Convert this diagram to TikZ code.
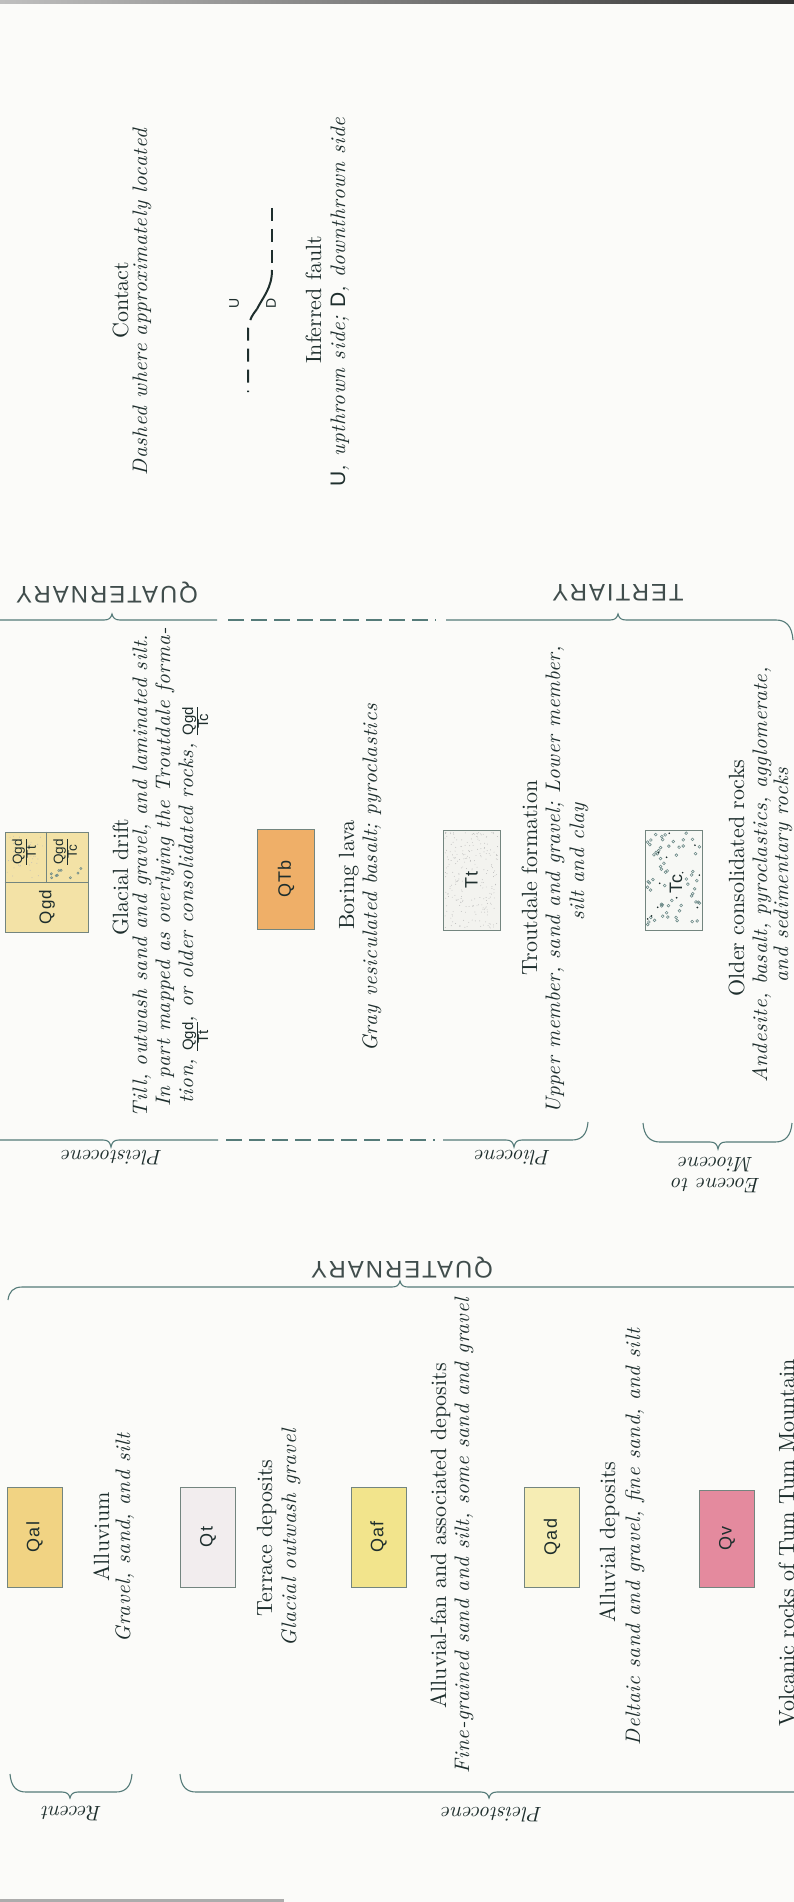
\documentclass[tikz,border=0pt]{standalone}
\usepackage{fontspec}
\setmainfont{lmroman10-regular}[Extension=.otf, ItalicFont=lmroman10-italic, BoldFont=lmroman10-bold]
\setsansfont{Liberation Sans}
\definecolor{ink}{HTML}{1E2E2D}
\definecolor{bracecol}{HTML}{557B79}
\definecolor{boxline}{HTML}{73857F}
\definecolor{pagebg}{HTML}{FBFBF9}
\definecolor{cQal}{HTML}{F1D383}
\definecolor{cQt}{HTML}{F2EDEE}
\definecolor{cQaf}{HTML}{F2E48C}
\definecolor{cQad}{HTML}{F6EDB4}
\definecolor{cQv}{HTML}{E48A9E}
\definecolor{cQgd}{HTML}{F3E2A6}
\definecolor{cQTb}{HTML}{EFAF68}
\definecolor{cTt}{HTML}{F3F3EF}
\definecolor{cTc}{HTML}{F7F8F5}
\definecolor{dotcol}{HTML}{6F8C8A}
\newcommand\frc[2]{{\renewcommand\arraystretch{0.9}\setlength\arrayrulewidth{0.8pt}\begin{tabular}[t]{@{}c@{}}\sffamily\upshape #1\\\hline\sffamily\upshape #2\end{tabular}}}
\tikzset{
  ttl/.style={rotate=90, anchor=base, inner sep=0pt, text=ink, font=\fontsize{22}{24}\selectfont},
  dsc/.style={rotate=90, anchor=base, inner sep=0pt, text=ink, font=\fontsize{21}{22}\selectfont\itshape\addfontfeatures{LetterSpace=3}},
  serieslab/.style={rotate=180, inner sep=0pt, text=ink, align=center, font=\fontsize{21}{21}\selectfont\itshape},
  syslab/.style={rotate=180, inner sep=0pt, text=ink!85, font=\fontsize{24}{24}\selectfont\sffamily\addfontfeatures{LetterSpace=8}},
  ubox/.style={draw=boxline, line width=0.8pt, inner sep=0pt, minimum width=55pt, minimum height=100pt},
  boxlab/.style={rotate=90, inner sep=0pt, text=ink, font=\fontsize{18}{18}\selectfont\sffamily\addfontfeatures{LetterSpace=6}},
  brace/.style={draw=bracecol, line width=1.1pt},
  bracedash/.style={draw=bracecol, line width=1.1pt, dash pattern=on 16pt off 7pt},
  faultline/.style={draw=ink, line width=2pt},
  dotline/.style={draw=dotcol, line width=0.6pt},
  stip/.style={fill=gray!55},
}
\begin{document}
\begin{tikzpicture}[x=1pt,y=-1pt]
\useasboundingbox (0,0) rectangle (794,1902);
\fill[pagebg] (0,0) rectangle (794,1902);
\shade[left color=gray!50,right color=black!80] (0,0) rectangle (794,4);
\fill[gray!65] (0,1899) rectangle (284,1902);

% ---------------- right column: contact and fault
\node[ttl] (contact) at (128,300) {Contact};
\node[dsc] (dashedwhere) at (147,302) {Dashed where approximately located};
\coordinate (f1) at (272,208);
\coordinate (f2) at (272,270);
\coordinate (f3) at (257,309);
\coordinate (f4) at (248,328);
\coordinate (f5) at (248,392);
\draw[faultline, dash pattern=on 13pt off 8pt] (f1) -- (f2);
\draw[faultline] (f2) .. controls (272,288) and (263,297) .. (f3);
\draw[faultline, dash pattern=on 13pt off 8pt] (f3) .. controls (251,317) .. (f4) -- (f5);
\node[rotate=90, inner sep=0pt, text=ink, font=\fontsize{14}{14}\selectfont\sffamily] (ulab) at (234,303) {U};
\node[rotate=90, inner sep=0pt, text=ink, font=\fontsize{14}{14}\selectfont\sffamily] (dlab) at (271,303) {D};
\node[ttl] (inferred) at (321,300) {Inferred fault};
\node[dsc] (updown) at (345,302) {{\sffamily\upshape U}, upthrown side; {\sffamily\upshape D}, downthrown side};

% ---------------- upper brace: QUATERNARY / TERTIARY
\draw[brace] (0,620) -- (104,620) .. controls (109,620) and (111,618) .. (112,614) .. controls (113,618) and (115,620) .. (120,620) -- (217,620);
\draw[bracedash] (228,620) -- (436,620);
\draw[brace] (446,620) -- (610,620) .. controls (615,620) and (617,618) .. (618,614) .. controls (619,618) and (621,620) .. (626,620) -- (776,620) .. controls (786,620) and (792,626) .. (793,640);
\node[syslab] (quat1) at (107,593) {QUATERNARY};
\node[syslab] (tert) at (618,593) {TERTIARY};

% ---------------- middle column boxes
\node[ubox, fill=cQgd, minimum width=83pt] (bQgd) at (46.5,882) {};
\draw[boxline, line width=0.8pt] (bQgd.west) -- (bQgd.east);
\draw[boxline, line width=0.8pt] (bQgd.north) -- (bQgd.center);
\pgfmathsetseed{11}
\foreach \i in {1,...,40}{
  \pgfmathsetmacro\sx{7+rnd*38}
  \pgfmathsetmacro\sy{834+rnd*46}
  \fill[stip] (\sx,\sy) circle[radius=0.45pt];
}
\foreach \i in {1,...,9}{
  \pgfmathsetmacro\sx{50+rnd*36}
  \pgfmathsetmacro\sy{868+rnd*12}
  \draw[dotline] (\sx,\sy) circle[radius=1.1pt];
}
\node[rotate=90, inner sep=0pt, text=ink, font=\fontsize{13.5}{13.5}\selectfont] (fTt) at (26,852) {\frc{Qgd}{Tt}};
\node[rotate=90, inner sep=0pt, text=ink, font=\fontsize{13.5}{13.5}\selectfont] (fTc) at (67,852) {\frc{Qgd}{Tc}};
\node[boxlab, font=\fontsize{17}{17}\selectfont\sffamily\addfontfeatures{LetterSpace=6}] (lQgd) at (47,907) {Qgd};

\node[ubox, fill=cQTb, minimum width=57pt] (bQTb) at (286,879) {};
\node[boxlab] (lQTb) at (bQTb.center) {QTb};

\node[ubox, fill=cTt, minimum width=57pt] (bTt) at (471.5,880) {};
\foreach \i in {1,...,260}{
  \pgfmathsetmacro\sx{445+rnd*53}
  \pgfmathsetmacro\sy{832+rnd*96}
  \pgfmathtruncatemacro\skipflag{and(abs(\sx-471.5)<9, abs(\sy-883)<12)}
  \ifnum\skipflag=0 \fill[stip] (\sx,\sy) circle[radius=0.45pt];\fi
}
\node[boxlab] (lTt) at (bTt.center) {Tt};

\node[ubox, fill=cTc, minimum width=57pt] (bTc) at (673.5,880) {};
\foreach \i in {1,...,75}{
  \pgfmathsetmacro\sx{647+rnd*53}
  \pgfmathsetmacro\sy{833+rnd*94}
  \pgfmathtruncatemacro\skipflag{and(abs(\sx-676)<9, abs(\sy-884)<13)}
  \ifnum\skipflag=0 \draw[dotline] (\sx,\sy) circle[radius=1.4pt];\fi
}
\foreach \i in {1,...,12}{
  \pgfmathsetmacro\sx{647+rnd*53}
  \pgfmathsetmacro\sy{833+rnd*94}
  \fill[ink] (\sx,\sy) circle[radius=0.9pt];
}
\node[boxlab] (lTc) at (676,884) {Tc};

% ---------------- middle column texts
\node[ttl] (glacial) at (128,877) {Glacial drift};
\node[dsc] (till) at (147,876) {Till, outwash sand and gravel, and laminated silt.};
\node[dsc, anchor=base west] (inpart) at (170,1107) {In part mapped as overlying the Troutdale forma-};
\node[dsc, anchor=base west] (tion) at (193,1104) {tion, {\fontsize{15}{15}\selectfont\frc{Qgd}{Tt}}, or older consolidated rocks, {\fontsize{15}{15}\selectfont\frc{Qgd}{Tc}}};
\node[ttl] (boring) at (354,875) {Boring lava};
\node[dsc] (gray) at (377,878) {Gray vesiculated basalt; pyroclastics};
\node[ttl] (troutdale) at (537,878) {Troutdale formation};
\node[dsc] (upper) at (560,880) {Upper member, sand and gravel; Lower member,};
\node[dsc] (siltclay) at (584,862) {silt and clay};
\node[ttl] (older) at (744,878) {Older consolidated rocks};
\node[dsc] (andesite) at (767,875) {Andesite, basalt, pyroclastics, agglomerate,};
\node[dsc] (sedim) at (788,875) {and sedimentary rocks};

% ---------------- middle braces: Pleistocene / Pliocene / Eocene to Miocene
\draw[brace] (0,1140) -- (103,1140) .. controls (108,1140) and (110,1142) .. (111,1147) .. controls (112,1142) and (114,1140) .. (119,1140) -- (218,1140);
\draw[bracedash] (226,1140) -- (435,1140);
\draw[brace] (443,1140) -- (506,1140) .. controls (511,1140) and (513,1142) .. (514,1147) .. controls (515,1142) and (517,1140) .. (522,1140) -- (572,1140) .. controls (582,1140) and (587,1134) .. (588,1122);
\draw[brace] (643,1123) .. controls (644,1136) and (650,1142) .. (660,1142) -- (710,1142) .. controls (715,1142) and (717,1144) .. (718,1149) .. controls (719,1144) and (721,1142) .. (726,1142) -- (775,1142) .. controls (785,1142) and (791,1136) .. (792,1123);
\node[serieslab] (pleist1) at (112,1158) {Pleistocene};
\node[serieslab] (plio) at (513,1158) {Pliocene};
\node[serieslab] (eoc) at (716,1175) {Eocene to\\Miocene};

% ---------------- lower QUATERNARY brace
\draw[brace] (8,1300) .. controls (9,1292) and (13,1287) .. (22,1287) -- (392,1287) .. controls (397,1287) and (399,1285) .. (400,1281) .. controls (401,1285) and (403,1287) .. (408,1287) -- (794,1287);
\node[syslab] (quat2) at (402,1268) {QUATERNARY};

% ---------------- left column boxes
\node[ubox, fill=cQal] (bQal) at (34.5,1537) {};
\node[boxlab] (lQal) at (bQal.center) {Qal};
\node[ubox, fill=cQt] (bQt) at (208,1537) {};
\node[boxlab] (lQt) at (bQt.center) {Qt};
\node[ubox, fill=cQaf] (bQaf) at (378.5,1537) {};
\node[boxlab] (lQaf) at (bQaf.center) {Qaf};
\node[ubox, fill=cQad] (bQad) at (552,1537) {};
\node[boxlab] (lQad) at (bQad.center) {Qad};
\node[ubox, fill=cQv, minimum height=97pt] (bQv) at (727,1538.5) {};
\node[boxlab] (lQv) at (bQv.center) {Qv};

% ---------------- left column texts
\node[ttl] (alluvium) at (109,1537) {Alluvium};
\node[dsc] (gravel) at (130,1538) {Gravel, sand, and silt};
\node[ttl] (terrace) at (272,1538) {Terrace deposits};
\node[dsc] (glout) at (296,1538) {Glacial outwash gravel};
\node[ttl] (alfan) at (446,1536) {Alluvial-fan and associated deposits};
\node[dsc] (finegr) at (469,1536) {Fine-grained sand and silt, some sand and gravel};
\node[ttl] (aldep) at (615,1542) {Alluvial deposits};
\node[dsc] (deltaic) at (640,1537) {Deltaic sand and gravel, fine sand, and silt};
\node[ttl] (volcanic) at (794,1543) {Volcanic rocks of Tum Tum Mountain};

% ---------------- bottom braces: Recent / Pleistocene
\draw[brace] (10,1774) .. controls (11,1786) and (16,1792) .. (26,1792) -- (62,1792) .. controls (67,1792) and (69,1794) .. (70,1798) .. controls (71,1794) and (73,1792) .. (78,1792) -- (116,1792) .. controls (126,1792) and (131,1786) .. (132,1774);
\draw[brace] (180,1774) .. controls (181,1786) and (186,1792) .. (196,1792) -- (481,1792) .. controls (486,1792) and (488,1794) .. (489,1798) .. controls (490,1794) and (492,1792) .. (497,1792) -- (794,1792);
\node[serieslab] (recent) at (72,1813) {Recent};
\node[serieslab] (pleist2) at (492,1815) {Pleistocene};
\end{tikzpicture}
\end{document}
